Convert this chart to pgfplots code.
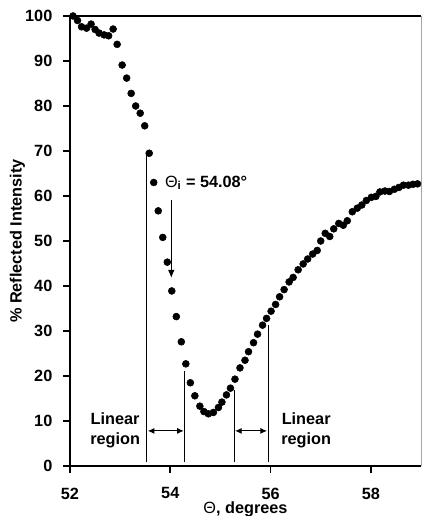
\documentclass[border=0pt]{standalone}
\usepackage{pgfplots}
\pgfplotsset{compat=1.18}
\usepackage{fontspec}
\setmainfont{Liberation Sans}
\usetikzlibrary{arrows.meta}

% Reflectance scan: angle (degrees) vs. reflected intensity (%)
\pgfplotstableread{
theta R
52.06 100.0
52.15 99.0
52.23 97.6
52.33 97.3
52.42 98.2
52.50 97.0
52.58 96.2
52.68 95.8
52.77 95.6
52.86 97.1
52.94 93.7
53.04 89.1
53.13 86.2
53.22 82.8
53.31 80.0
53.40 78.4
53.49 75.6
53.58 69.5
53.67 63.0
53.76 56.7
53.85 50.8
53.94 45.3
54.03 38.9
54.12 33.2
54.22 27.6
54.31 22.7
54.40 18.5
54.49 15.6
54.59 13.3
54.67 12.1
54.76 11.6
54.86 11.9
54.96 13.0
55.03 14.2
55.12 15.8
55.20 17.3
55.29 19.3
55.39 21.8
55.49 23.5
55.56 25.4
55.66 27.4
55.74 29.3
55.84 31.3
55.92 32.8
56.01 34.4
56.10 35.9
56.18 37.6
56.27 39.2
56.37 40.9
56.45 41.9
56.55 43.6
56.65 44.9
56.74 46.0
56.84 47.1
56.93 47.9
57.00 50.0
57.09 51.7
57.18 51.0
57.26 52.7
57.36 53.9
57.45 53.5
57.53 54.5
57.63 56.5
57.73 57.3
57.82 58.0
57.91 59.0
58.01 59.7
58.10 59.9
58.18 60.9
58.28 61.1
58.37 61.0
58.47 61.5
58.56 61.9
58.65 62.4
58.75 62.4
58.84 62.6
58.93 62.7
}\scan

\begin{document}
\bfseries\fontsize{12.2}{14.5}\selectfont
\begin{tikzpicture}
\begin{axis}[
  scale only axis,
  width=263.25pt, height=337.5pt,
  xmin=52, xmax=59, ymin=0, ymax=100,
  xtick={52,54,56,58},
  ytick={0,10,...,100},
  axis line style={draw=none},
  tick align=outside,
  xtick pos=bottom, ytick pos=left,
  major tick length=5pt,
  every tick/.style={black, line width=1.3pt},
  /pgf/number format/assume math mode=true,
  xticklabel style={yshift=-7pt},
  yticklabel style={xshift=-4pt},
  xlabel={{\mdseries Θ}, degrees},
  ylabel={\% Reflected Intensity},
  xlabel style={at={(axis description cs:0.5,-0.106)}, anchor=base},
  ylabel style={at={(axis description cs:-0.1496,0.5)}, anchor=center},
  clip=false,
]
% frame: heavy left, bottom and top edges, light right edge
\draw[line width=1.9pt] (rel axis cs:1,1) -- (rel axis cs:0,1) -- (rel axis cs:0,0) -- (rel axis cs:1,0);
\draw[gray!70, line width=0.6pt] (rel axis cs:1,0) -- (rel axis cs:1,1);

\addplot[only marks, mark=*, mark size=2.6pt, black] table[x=theta, y=R] {\scan};

% boundaries of the two linear regions
\draw[line width=0.6pt] (axis cs:53.53,0.8) -- (axis cs:53.53,69.5);
\draw[line width=0.6pt] (axis cs:54.29,0.8) -- (axis cs:54.29,21.2);
\draw[line width=0.6pt] (axis cs:55.27,0.8) -- (axis cs:55.27,16.9);
\draw[line width=0.6pt] (axis cs:55.95,0.8) -- (axis cs:55.95,31.3);
\draw[line width=0.8pt, {Latex[length=5pt,width=4.5pt]}-{Latex[length=5pt,width=4.5pt]}]
  (axis cs:53.55,7.8) -- (axis cs:54.27,7.8);
\draw[line width=0.8pt, {Latex[length=5pt,width=4.5pt]}-{Latex[length=5pt,width=4.5pt]}]
  (axis cs:55.29,7.8) -- (axis cs:55.93,7.8);
\node[align=center, font=\bfseries\fontsize{12.2}{15}\selectfont] at (axis cs:52.90,8.0) {Linear\\region};
\node[align=center, font=\bfseries\fontsize{12.2}{15}\selectfont] at (axis cs:56.71,8.0) {Linear\\region};

% angle of incidence marker
\node[anchor=west, inner sep=0pt] at (axis cs:53.89,62.9) {{\mdseries Θ}\textsubscript{i} = 54.08°};
\draw[line width=0.8pt, -{Latex[length=6pt,width=5pt]}] (axis cs:54.02,59.1) -- (axis cs:54.02,41.8);
\end{axis}
\pgfresetboundingbox
\path[use as bounding box] (-52.5pt,-37.5pt) rectangle (264pt,349.5pt);
\end{tikzpicture}
\end{document}
